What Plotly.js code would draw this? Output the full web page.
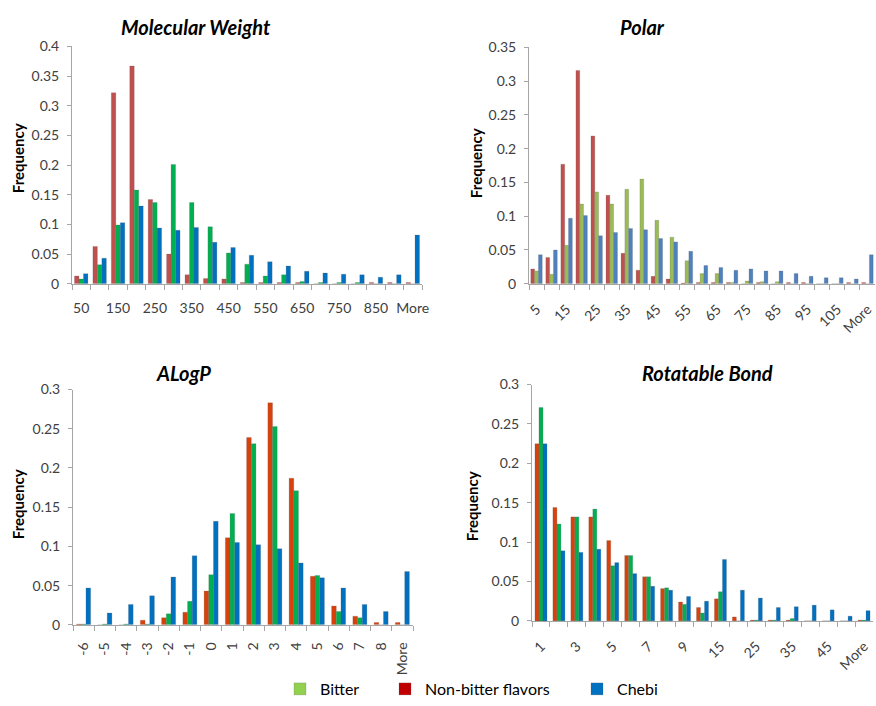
<!DOCTYPE html>
<html>
<head>
<meta charset="utf-8">
<script src="https://cdn.plot.ly/plotly-3.0.1.min.js"></script>
<style>html,body{margin:0;padding:0;background:#fff;}#chart{width:876px;height:706px;}</style>
</head>
<body>
<div id="chart"></div>
<script>
// ---------- Molecular Weight ----------
const mwCats = ['50','100','150','200','250','300','350','400','450','500','550','600','650','700','750','800','850','900','More'];
const mwTickText = ['50','','150','','250','','350','','450','','550','','650','','750','','850','','More'];
const mwNonBitter = [0.013,0.063,0.322,0.367,0.142,0.050,0.015,0.009,0.008,0.002,0.002,0.002,0.002,0.000,0.000,0.000,0.002,0.002,0.002];
const mwBitter    = [0.008,0.032,0.099,0.158,0.137,0.201,0.137,0.096,0.052,0.033,0.013,0.015,0.004,0.002,0.002,0.002,0.000,0.000,0.000];
const mwChebi     = [0.017,0.043,0.103,0.131,0.094,0.090,0.095,0.070,0.061,0.048,0.037,0.030,0.021,0.018,0.016,0.015,0.011,0.015,0.082];

// ---------- Polar ----------
const polarCats = ['5','10','15','20','25','30','35','40','45','50','55','60','65','70','75','80','85','90','95','100','105','110','More'];
const polarTickText = ['5','','15','','25','','35','','45','','55','','65','','75','','85','','95','','105','','More'];
const polarNonBitter = [0.022,0.039,0.177,0.316,0.219,0.131,0.045,0.020,0.011,0.007,0.001,0.002,0.002,0.002,0.000,0.002,0.000,0.002,0.002,0.000,0.000,0.002,0.002];
const polarBitter    = [0.019,0.014,0.057,0.118,0.136,0.118,0.140,0.155,0.094,0.069,0.034,0.015,0.015,0.002,0.004,0.003,0.003,0.000,0.000,0.000,0.000,0.000,0.000];
const polarChebi     = [0.043,0.050,0.097,0.101,0.071,0.076,0.082,0.080,0.067,0.062,0.048,0.027,0.024,0.020,0.022,0.019,0.019,0.015,0.011,0.009,0.009,0.007,0.043];

// ---------- ALogP ----------
const alogpCats = ['-6','-5','-4','-3','-2','-1','0','1','2','3','4','5','6','7','8','More'];
const alogpNonBitter = [0.001,0.000,0.000,0.006,0.009,0.016,0.043,0.111,0.239,0.283,0.187,0.062,0.024,0.011,0.003,0.003];
const alogpBitter    = [0.001,0.001,0.001,0.001,0.014,0.030,0.064,0.142,0.231,0.253,0.171,0.063,0.017,0.009,0.000,0.000];
const alogpChebi     = [0.047,0.015,0.026,0.037,0.061,0.088,0.132,0.105,0.102,0.097,0.079,0.060,0.047,0.026,0.017,0.068];

// ---------- Rotatable Bond ----------
const rotCats = ['1','2','3','4','5','6','7','8','9','10','15','20','25','30','35','40','45','50','More'];
const rotTickText = ['1','','3','','5','','7','','9','','15','','25','','35','','45','','More'];
const rotNonBitter = [0.225,0.144,0.132,0.132,0.102,0.083,0.056,0.041,0.024,0.017,0.028,0.005,0.001,0.001,0.001,0.000,0.000,0.000,0.001];
const rotBitter    = [0.271,0.123,0.132,0.142,0.070,0.083,0.056,0.042,0.021,0.010,0.037,0.000,0.001,0.001,0.003,0.000,0.000,0.000,0.001];
const rotChebi     = [0.225,0.089,0.087,0.091,0.074,0.060,0.044,0.039,0.031,0.025,0.078,0.039,0.029,0.017,0.018,0.020,0.014,0.006,0.013];

const legendNames = ['Bitter','Non-bitter flavors','Chebi'];

const edge = {width:0.6, color:'rgba(90,90,90,0.35)'};
// three bars per group; gap is the fraction of a category left empty
function group(x, ys, colors, xa, ya, gap) {
  const w = (1 - gap) / 3;
  return ys.map((y, i) => ({
    type:'bar', x:x, y:y, xaxis:xa, yaxis:ya, showlegend:false, hoverinfo:'x+y',
    width:w, offset:-1.5*w + i*w, marker:{color:colors[i], line:edge}
  }));
}

const traces = [].concat(
  group(mwCats, [mwNonBitter, mwBitter, mwChebi], ['#C0504D','#00B050','#0070C0'], 'x', 'y', 0.27),
  group(polarCats, [polarNonBitter, polarBitter, polarChebi], ['#C0504D','#9BBB59','#4F81BD'], 'x2', 'y2', 0.24),
  group(alogpCats, [alogpNonBitter, alogpBitter, alogpChebi], ['#D8410C','#00B050','#0070C0'], 'x3', 'y3', 0.34),
  group(rotCats, [rotNonBitter, rotBitter, rotChebi], ['#D8410C','#00B050','#0070C0'], 'x4', 'y4', 0.33),
  [
    {type:'bar', x:[null], y:[null], name:legendNames[0], marker:{color:'#92D050', line:edge}, legend:'legend', xaxis:'x', yaxis:'y'},
    {type:'bar', x:[null], y:[null], name:legendNames[1], marker:{color:'#C00000', line:edge}, legend:'legend2', xaxis:'x', yaxis:'y'},
    {type:'bar', x:[null], y:[null], name:legendNames[2], marker:{color:'#0070C0', line:edge}, legend:'legend3', xaxis:'x', yaxis:'y'}
  ]
);

const FONT = 'Lato, "Open Sans", "DejaVu Sans", sans-serif';
const tickFont = {family:FONT, size:14, color:'#404040'};
const axLine = '#A6A6A6';

function xax(domain, cats, text, angle, anchor) {
  return {domain:domain, anchor:anchor, type:'category', tickmode:'array', tickvals:cats, ticktext:text,
          tickangle:angle, tickson:'boundaries', ticks:'outside', ticklen:5, tickcolor:axLine,
          showline:true, linecolor:axLine, linewidth:1, showgrid:false, zeroline:false,
          tickfont:tickFont, ticklabelstandoff:11, fixedrange:true};
}
function yax(domain, max, anchor) {
  return {domain:domain, anchor:anchor, range:[0,max], dtick:0.05, tick0:0, ticks:'outside', ticklen:4,
          tickcolor:axLine, showline:true, linecolor:axLine, linewidth:1, showgrid:false, zeroline:false,
          tickfont:tickFont, ticklabelstandoff:5, fixedrange:true};
}

const W = 876, H = 706;
const px = (a,b) => [a/W, b/W];
const py = (top,bottom) => [1-bottom/H, 1-top/H];

function ann(text, x, y, size, italic, angle) {
  return {text: italic ? '<b><i>'+text+'</i></b>' : '<b>'+text+'</b>', xref:'paper', yref:'paper',
          x:x/W, y:1-y/H, xanchor:'center', yanchor:'middle', showarrow:false, textangle:angle||0,
          font:{family:FONT, size:size, color:'#000'}};
}

const legendBase = {orientation:'h', yanchor:'middle', y:1-697/H, xanchor:'left',
                    font:{family:FONT, size:16, color:'#000'}, bgcolor:'rgba(0,0,0,0)', borderwidth:0};

const layout = {
  width:W, height:H, margin:{l:0,r:0,t:0,b:0},
  paper_bgcolor:'#fff', plot_bgcolor:'#fff',
  barmode:'group', bargroupgap:0,
  font:{family:FONT},
  xaxis: xax(px(72,422), mwCats, mwTickText, 0, 'y'),
  yaxis: yax(py(47,287), 0.4, 'x'),
  xaxis2: xax(px(529,875), polarCats, polarTickText, -45, 'y2'),
  yaxis2: yax(py(48,287), 0.35, 'x2'),
  xaxis3: xax(px(73,413), alogpCats, alogpCats, -90, 'y3'),
  yaxis3: yax(py(394,632), 0.3, 'x3'),
  xaxis4: xax(px(532,873), rotCats, rotTickText, -45, 'y4'),
  yaxis4: yax(py(389,628), 0.3, 'x4'),
  annotations:[
    ann('Molecular Weight', 196, 27, 20, true),
    ann('Polar', 642, 27, 20, true),
    ann('ALogP', 183, 377, 20, true),
    ann('Rotatable Bond', 707, 377, 20, true),
    ann('Frequency', 18, 160, 15, false, -90),
    ann('Frequency', 476, 165, 15, false, -90),
    ann('Frequency', 18, 510, 15, false, -90),
    ann('Frequency', 472, 512, 15, false, -90)
  ],
  legend: Object.assign({}, legendBase, {x:280/W}),
  legend2: Object.assign({}, legendBase, {x:385/W}),
  legend3: Object.assign({}, legendBase, {x:577/W}),
  showlegend:true
};

Plotly.newPlot('chart', traces, layout, {displayModeBar:false, staticPlot:true});
</script>
</body>
</html>
